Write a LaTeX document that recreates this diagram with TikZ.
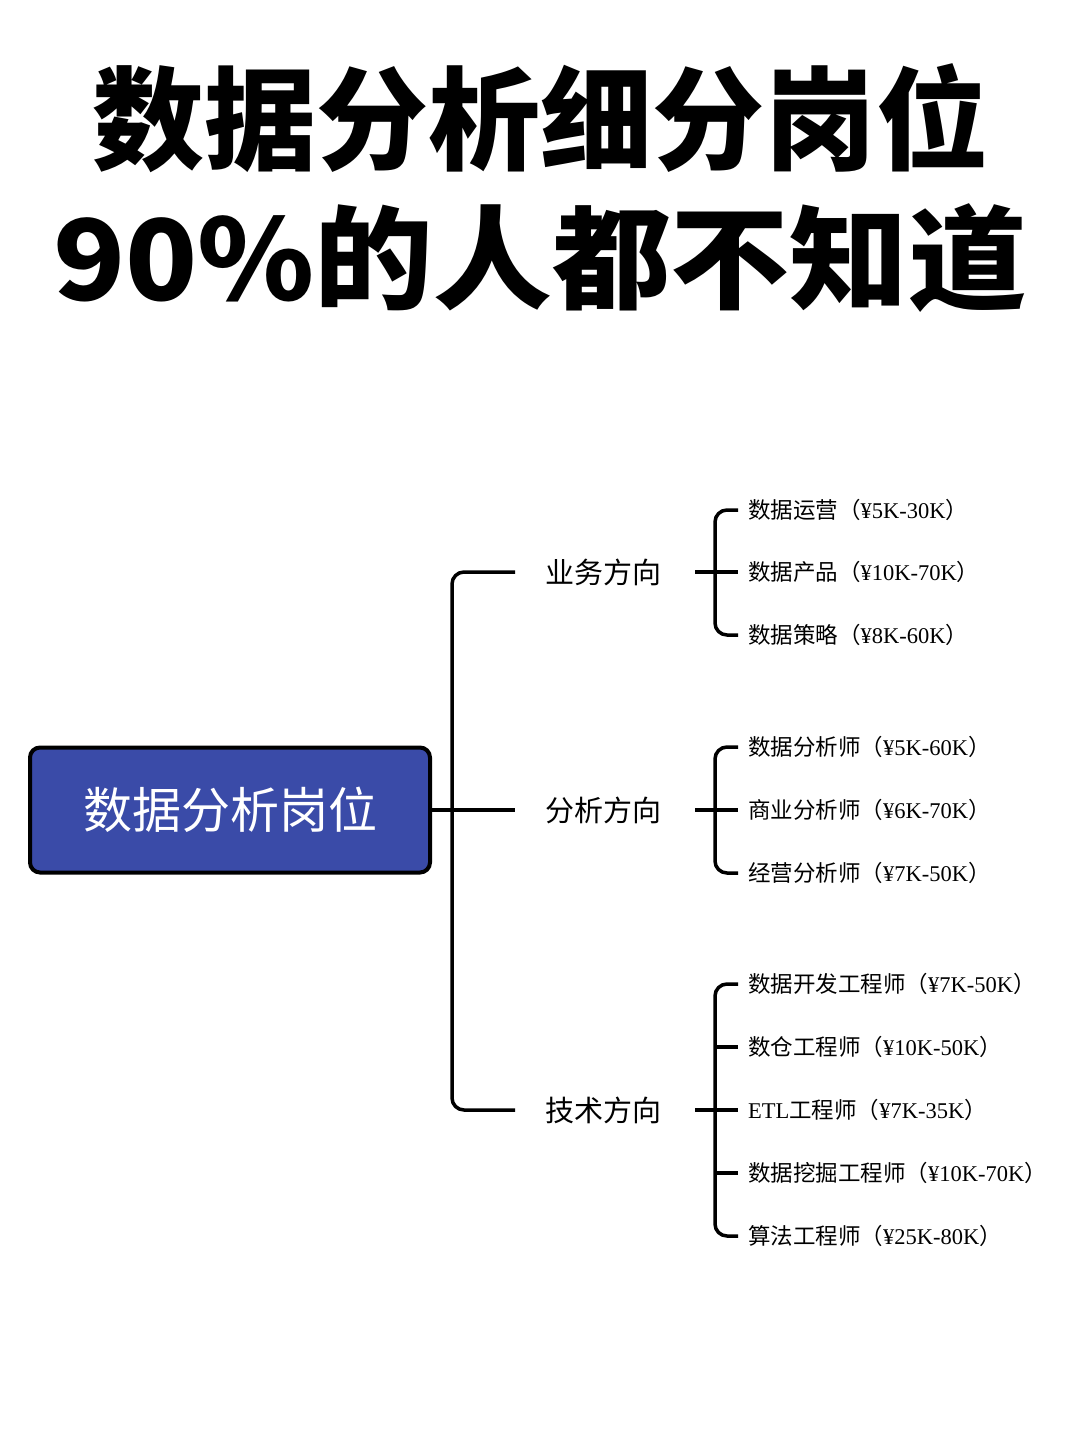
\documentclass[tikz,border=0pt]{standalone}
\usepackage{fontspec}
\setmainfont{Liberation Serif}
\newfontfamily\cjk{Noto Sans CJK SC}
\newfontfamily\cjkb{Noto Sans CJK SC}[BoldFont={* Black}]
\definecolor{boxblue}{HTML}{3A4BA8}
\newcommand\sal[1]{{\cjk（}{\rmfamily #1}{\cjk）}}
\begin{document}
\begin{tikzpicture}[x=1pt,y=-1pt,
  ln/.style={line width=3.5pt,rounded corners=12pt},
  cat/.style={anchor=west,font=\cjk\fontsize{29}{32}\selectfont,inner sep=0},
  leaf/.style={anchor=west,font=\cjk\fontsize{22.5}{24}\selectfont,inner sep=0}]
\useasboundingbox (0,0) rectangle (1080,1440);
\node[font=\cjkb\bfseries\fontsize{112}{120}\selectfont] (t1) at (540,118) {数据分析细分岗位};
\node[font=\cjkb\bfseries\fontsize{112}{120}\selectfont,xscale=1.06] (t2) at (540,258) {90\%的人都不知道};
\node[draw=black,line width=4pt,fill=boxblue,rounded corners=10pt,minimum width=400pt,minimum height=125pt,text=white,font=\cjk\fontsize{49}{52}\selectfont] (root) at (230,810) {数据分析岗位};
\node[cat] (c1) at (545,572) {业务方向};
\node[cat] (c2) at (545,810) {分析方向};
\node[cat] (c3) at (545,1110) {技术方向};
\draw[ln] (515,572) -- (452,572) -- (452,1110) -- (515,1110);
\draw[ln] (root.east) -- (515,810);
\foreach \y/\t [count=\i] in {510/{数据运营\sal{¥5K-30K}},572/{数据产品\sal{¥10K-70K}},635/{数据策略\sal{¥8K-60K}}}
  \node[leaf] (a\i) at (748,\y) {\t};
\draw[ln] (738,510) -- (715,510) -- (715,635) -- (738,635);
\draw[ln] (695,572) -- (738,572);
\foreach \y/\t [count=\i] in {747/{数据分析师\sal{¥5K-60K}},810/{商业分析师\sal{¥6K-70K}},873/{经营分析师\sal{¥7K-50K}}}
  \node[leaf] (b\i) at (748,\y) {\t};
\draw[ln] (738,747) -- (715,747) -- (715,873) -- (738,873);
\draw[ln] (695,810) -- (738,810);
\foreach \y/\t [count=\i] in {984/{数据开发工程师\sal{¥7K-50K}},1047/{数仓工程师\sal{¥10K-50K}},1110/{{\rmfamily ETL}工程师\sal{¥7K-35K}},1173/{数据挖掘工程师\sal{¥10K-70K}},1236/{算法工程师\sal{¥25K-80K}}}
  \node[leaf] (d\i) at (748,\y) {\t};
\draw[ln] (738,984) -- (715,984) -- (715,1236) -- (738,1236);
\draw[ln] (695,1110) -- (738,1110);
\draw[ln] (715,1047) -- (738,1047);
\draw[ln] (715,1173) -- (738,1173);
\end{tikzpicture}
\end{document}
